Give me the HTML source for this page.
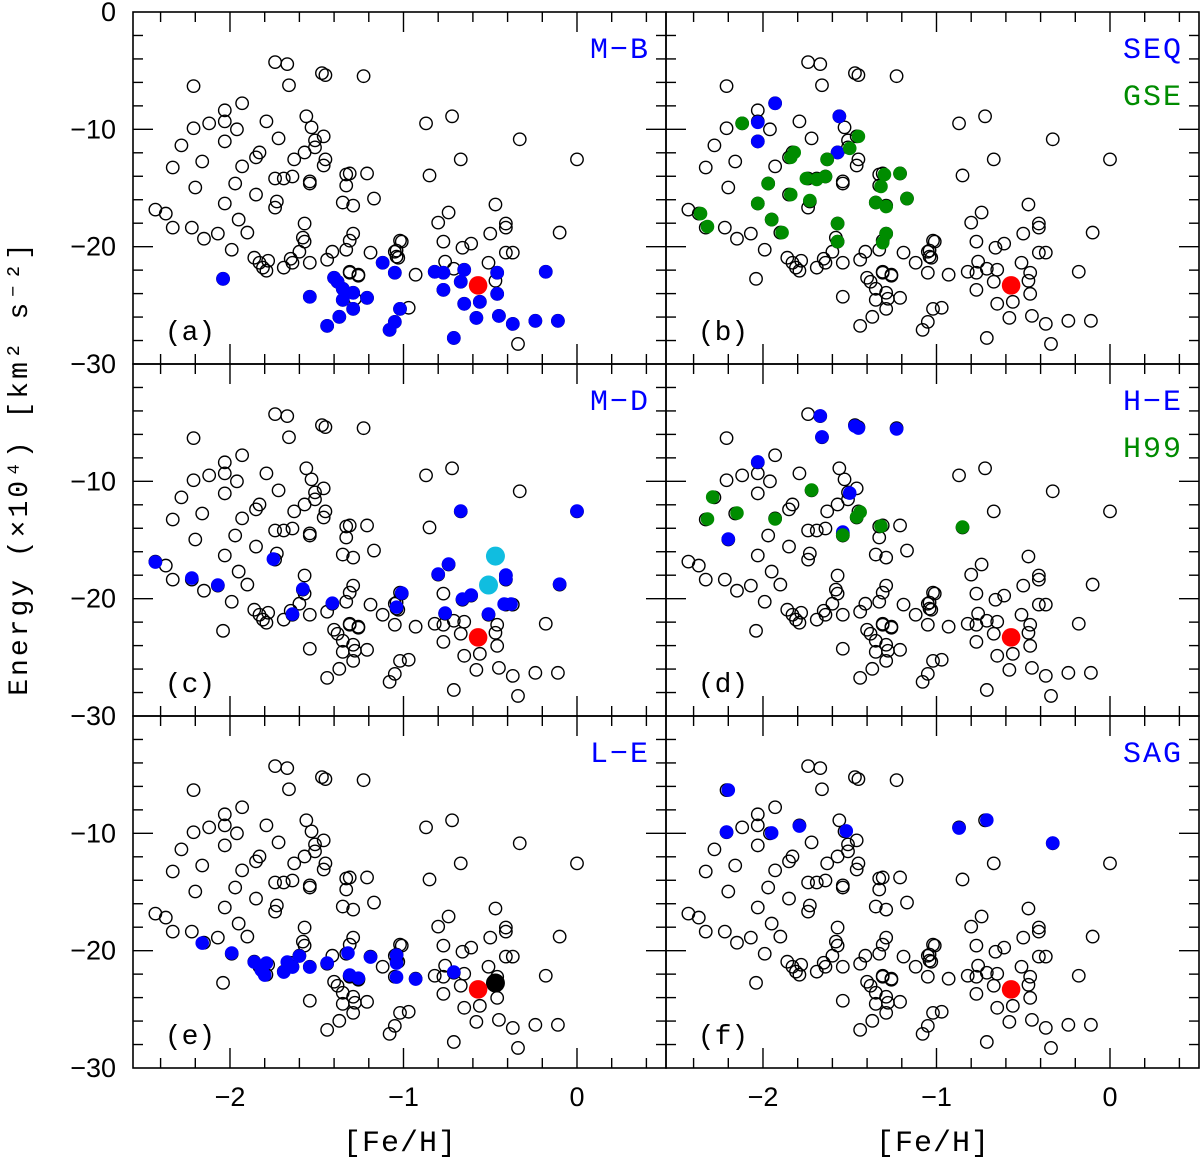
<!DOCTYPE html>
<html><head><meta charset="utf-8"><style>
html,body{margin:0;padding:0;background:#fff;}
svg{display:block;font-family:"Liberation Sans",sans-serif;}
.lab{font-family:"Liberation Mono",monospace;}
</style></head><body>
<svg id="chart" width="1200" height="1161" viewBox="0 0 1200 1161" xmlns="http://www.w3.org/2000/svg">
<text class="lab" transform="translate(27,468) rotate(-90)" text-anchor="middle" font-size="28" letter-spacing="3">Energy (×10⁴)  [km² s⁻²]</text>
<text class="lab" x="400" y="1151" text-anchor="middle" font-size="30" letter-spacing="1">[Fe/H]</text>
<text class="lab" x="933" y="1151" text-anchor="middle" font-size="30" letter-spacing="1">[Fe/H]</text>
</svg>
<script>
// Background field stars (open circles), [Fe/H] and Energy (x10^4)
const bgFe=[-1.74,-1.67,-2.21,-1.66,-1.47,-1.45,-1.23,-1.93,-2.03,-1.56,-2.12,-2.03,-1.79,-2.21,-1.96,-1.53,-1.46,-1.72,-1.51,-2.03,-1.51,-2.28,-1.57,-1.83,-1.85,-1.45,-1.46,-1.63,-2.16,-2.33,-1.93,-1.31,-1.33,-1.21,-1.74,-1.69,-1.64,-1.54,-1.54,-1.33,-1.97,-2.20,-1.85,-1.73,-1.74,-2.03,-1.35,-1.29,-1.17,-2.43,-2.37,-2.33,-2.22,-2.15,-2.07,-1.95,-1.90,-1.57,-1.58,-1.57,-1.29,-1.31,-1.33,-1.41,-1.44,-1.60,-1.54,-1.65,-1.64,-1.69,-1.99,-1.86,-1.83,-1.81,-1.79,-1.78,-1.19,-1.31,-1.26,-1.04,-1.03,-1.02,-0.87,-0.72,-0.33,-0.67,0.00,-0.85,-0.47,-0.74,-0.80,-0.41,-0.41,-0.50,-0.10,-0.77,-1.01,-1.05,-1.04,-0.61,-0.66,-0.41,-0.37,-0.76,-0.71,-0.51,-0.93,-0.47,-0.34,-1.54,-1.44,-1.37,-1.35,-1.35,-1.29,-1.29,-1.28,-1.21,-1.40,-1.38,-1.31,-1.26,-1.12,-1.05,-1.02,-0.97,-1.05,-1.08,-0.77,-0.82,-0.77,-0.65,-0.67,-0.65,-0.58,-0.56,-0.71,-0.46,-0.46,-0.45,-0.37,-0.24,-0.11,-0.18,-2.04];
const bgE=[-4.27,-4.44,-6.32,-6.24,-5.21,-5.38,-5.47,-7.78,-8.38,-8.89,-9.49,-9.32,-9.32,-9.91,-10.0,-9.83,-10.6,-10.77,-10.94,-11.03,-11.54,-11.37,-11.97,-11.97,-12.39,-12.56,-13.08,-12.56,-12.74,-13.25,-13.16,-13.76,-13.85,-13.76,-14.19,-14.19,-14.02,-14.44,-14.62,-14.79,-14.62,-14.96,-15.56,-16.15,-16.67,-16.32,-16.24,-16.5,-15.9,-16.84,-17.18,-18.38,-18.38,-19.32,-18.89,-17.69,-18.8,-18.03,-19.23,-19.57,-18.89,-19.49,-20.26,-20.43,-21.11,-20.43,-21.37,-21.03,-21.37,-21.79,-20.26,-20.94,-21.37,-21.79,-22.05,-21.2,-20.51,-22.14,-22.48,-20.34,-20.94,-19.49,-9.49,-8.89,-10.85,-12.56,-12.56,-13.93,-16.41,-17.09,-17.95,-18.03,-18.38,-18.89,-18.8,-19.57,-19.57,-20.43,-20.85,-19.74,-20.09,-20.51,-20.51,-21.28,-21.88,-21.37,-22.39,-22.91,-28.29,-24.27,-26.75,-25.98,-23.59,-24.53,-23.93,-25.3,-24.44,-24.36,-22.65,-22.99,-22.22,-22.39,-21.37,-22.22,-25.3,-25.21,-26.41,-27.09,-23.68,-22.14,-22.22,-21.97,-22.99,-24.87,-26.07,-24.7,-27.78,-22.22,-24.02,-25.9,-26.58,-26.32,-26.32,-22.14,-22.74];
// Reference star (red)
const refFe=[-0.57];
const refE=[-23.3];
// (a) M-B
const mbFe=[-2.04,-1.54,-1.44,-1.37,-1.40,-1.38,-1.35,-1.35,-1.29,-1.29,-1.21,-1.12,-1.05,-1.02,-1.05,-1.08,-0.82,-0.77,-0.77,-0.67,-0.65,-0.65,-0.56,-0.58,-0.71,-0.46,-0.46,-0.45,-0.37,-0.24,-0.11,-0.18];
const mbE=[-22.74,-24.27,-26.75,-25.98,-22.65,-22.99,-23.59,-24.53,-23.93,-25.3,-24.36,-21.37,-22.22,-25.3,-26.41,-27.09,-22.14,-22.22,-23.68,-22.99,-21.97,-24.87,-24.7,-26.07,-27.78,-22.22,-24.02,-25.9,-26.58,-26.32,-26.32,-22.14];
// (b) SEQ and GSE
const seqFe=[-1.93,-2.03,-2.03,-1.56,-1.57];
const seqE=[-7.78,-9.40,-11.03,-8.89,-11.97];
const gseFe=[-2.12,-2.36,-2.32,-2.03,-1.97,-1.95,-1.89,-1.84,-1.82,-1.84,-1.73,-1.75,-1.69,-1.64,-1.63,-1.50,-1.45,-1.57,-1.57,-1.35,-1.29,-1.32,-1.30,-1.21,-1.17,-1.29,-1.31];
const gseE=[-9.49,-17.18,-18.29,-16.32,-14.62,-17.69,-18.8,-12.39,-11.97,-15.56,-16.07,-14.19,-14.27,-14.02,-12.56,-11.62,-10.6,-18.03,-19.57,-16.24,-16.58,-14.87,-13.85,-13.76,-15.9,-18.89,-19.66];
// (c) M-D
const mdFe=[-2.43,-2.22,-2.07,-1.75,-1.58,-1.64,-1.41,-1.01,-1.04,-0.67,0.00,-0.74,-0.80,-0.66,-0.61,-0.76,-0.41,-0.41,-0.51,-0.42,-0.38,-0.10];
const mdE=[-16.88,-18.24,-18.84,-16.62,-19.18,-21.31,-20.38,-19.52,-20.72,-12.53,-12.53,-17.05,-17.9,-20.03,-19.69,-21.23,-17.99,-18.33,-21.31,-20.46,-20.46,-18.76];
const mdCyanFe=[-0.47,-0.51];
const mdCyanE=[-16.37,-18.84];
// (d) H-E and H99
const heFe=[-1.67,-1.66,-1.47,-1.45,-1.23,-2.03,-1.50,-2.20,-1.54];
const heE=[-4.43,-6.22,-5.29,-5.46,-5.54,-8.35,-11.0,-14.92,-14.32];
const h99Fe=[-2.29,-2.32,-2.15,-1.93,-1.72,-1.44,-1.46,-1.54,-1.32,-0.85];
const h99E=[-11.34,-13.21,-12.7,-13.21,-10.74,-12.62,-13.04,-14.58,-13.81,-13.9];
// (e) L-E
const leFe=[-2.16,-1.99,-1.86,-1.82,-1.79,-1.80,-1.69,-1.67,-1.64,-1.60,-1.54,-1.44,-1.32,-1.31,-1.26,-1.19,-1.04,-1.04,-1.04,-0.93,-0.71];
const leE=[-19.35,-20.2,-20.97,-21.65,-21.06,-22.08,-21.82,-20.97,-21.4,-20.46,-21.4,-21.06,-20.2,-22.08,-22.34,-20.55,-20.38,-21.06,-22.25,-22.42,-21.82];
const leBlackFe=[-0.47];
const leBlackE=[-22.76];
// (f) SAG
const sagFe=[-2.20,-2.21,-1.95,-1.79,-1.52,-0.87,-0.71,-0.33];
const sagE=[-6.31,-9.89,-9.97,-9.38,-9.8,-9.55,-8.87,-10.83];

const xTicks=[-2,-1,0];
const xTickLabels=["−2","−1","0"];
const yTicks=[0,-10,-20,-30];
const yTickLabels=["0","−10","−20","−30"];

const NS="http://www.w3.org/2000/svg";
const svg=document.getElementById('chart');
const COLX=[133,666], ROWY=[12,364,716], PW=533, PH=352;
const XMIN=-2.559, XMAX=0.513, YMIN=-30, YMAX=0;
function sx(col,v){return COLX[col]+(v-XMIN)/(XMAX-XMIN)*PW;}
function sy(row,v){return ROWY[row]+(YMAX-v)/(YMAX-YMIN)*PH;}
function mk(tag,attrs,parent){const e=document.createElementNS(NS,tag);for(const k in attrs)e.setAttribute(k,attrs[k]);(parent||svg).appendChild(e);return e;}

const panels=[
 {id:'a',col:0,row:0,sets:[{fe:mbFe,e:mbE,c:'#0000ff',r:6.8,n:'m-b-point'}],labels:[{t:'M−B',c:'#0000ff'}]},
 {id:'b',col:1,row:0,sets:[{fe:seqFe,e:seqE,c:'#0000ff',r:6.8,n:'seq-point'},{fe:gseFe,e:gseE,c:'#008c00',r:6.8,n:'gse-point'}],labels:[{t:'SEQ',c:'#0000ff'},{t:'GSE',c:'#008c00'}]},
 {id:'c',col:0,row:1,sets:[{fe:mdFe,e:mdE,c:'#0000ff',r:6.8,n:'m-d-point'},{fe:mdCyanFe,e:mdCyanE,c:'#10bde0',r:9.5,n:'m-d-cyan-point'}],labels:[{t:'M−D',c:'#0000ff'}]},
 {id:'d',col:1,row:1,sets:[{fe:heFe,e:heE,c:'#0000ff',r:6.8,n:'h-e-point'},{fe:h99Fe,e:h99E,c:'#008c00',r:6.8,n:'h99-point'}],labels:[{t:'H−E',c:'#0000ff'},{t:'H99',c:'#008c00'}]},
 {id:'e',col:0,row:2,sets:[{fe:leFe,e:leE,c:'#0000ff',r:6.8,n:'l-e-point'},{fe:leBlackFe,e:leBlackE,c:'#000000',r:9.5,n:'l-e-black-point'}],labels:[{t:'L−E',c:'#0000ff'}]},
 {id:'f',col:1,row:2,sets:[{fe:sagFe,e:sagE,c:'#0000ff',r:6.8,n:'sag-point'}],labels:[{t:'SAG',c:'#0000ff'}]}
];

panels.forEach(p=>{
  const g=mk('g',{});
  
  
  const x0=COLX[p.col], y0=ROWY[p.row];
  bgFe.forEach((f,i)=>{
    const c=mk('circle',{cx:sx(p.col,f),cy:sy(p.row,bgE[i]),r:6.2,fill:'none',stroke:'#000','stroke-width':1.4},g);
    
    
  });
  p.sets.forEach(s=>{
    s.fe.forEach((f,i)=>{
      const c=mk('circle',{cx:sx(p.col,f),cy:sy(p.row,s.e[i]),r:s.r,fill:s.c},g);
      
      
    });
  });
  refFe.forEach((f,i)=>{
    const c=mk('circle',{cx:sx(p.col,f),cy:sy(p.row,refE[i]),r:9.3,fill:'#ff0000'},g);
    
    
  });
  const fr=mk('rect',{x:x0,y:y0,width:PW,height:PH,fill:'none',stroke:'#000','stroke-width':1.6},g);
  
  
  for(let k=-25;k<=5;k++){
    const v=k/10; if(v<XMIN||v>XMAX) continue;
    if(k%2!==0) continue;
    const major=(k%10===0); const L=major?20:10; const X=sx(p.col,v);
    const t1=mk('line',{x1:X,x2:X,y1:y0+PH,y2:y0+PH-L,stroke:'#000','stroke-width':1.4},g);
    
    
    const t2=mk('line',{x1:X,x2:X,y1:y0,y2:y0+L,stroke:'#000','stroke-width':1.4},g);
    
    
  }
  for(let v=-28;v<0;v+=2){
    const major=(v%10===0); const L=major?20:10; const Y=sy(p.row,v);
    const t1=mk('line',{x1:x0,x2:x0+L,y1:Y,y2:Y,stroke:'#000','stroke-width':1.4},g);
    
    
    const t2=mk('line',{x1:x0+PW,x2:x0+PW-L,y1:Y,y2:Y,stroke:'#000','stroke-width':1.4},g);
    
    
  }
  const pl=mk('text',{x:x0+57,y:y0+328,'text-anchor':'middle','font-size':28,'class':'lab'},g);
  pl.textContent='('+p.id+')';
  
  
  p.labels.forEach((l,i)=>{
    const t=mk('text',{x:x0+PW-16,y:y0+46+i*47,'text-anchor':'end','font-size':30,'class':'lab',fill:l.c,'letter-spacing':2},g);
    t.textContent=l.t;
    
    
  });
});
[0,1,2].forEach(row=>{
  yTicks.forEach((v,i)=>{
    if(row>0 && v===0) return;
    const t=mk('text',{x:116,y:sy(row,v)+9,'text-anchor':'end','font-size':27});
    t.textContent=yTickLabels[i];
    
    
  });
});
[0,1].forEach(col=>{
  xTicks.forEach((v,i)=>{
    const t=mk('text',{x:sx(col,v),y:1106,'text-anchor':'middle','font-size':27});
    t.textContent=xTickLabels[i];
    
    
  });
});
</script>
</body></html>
